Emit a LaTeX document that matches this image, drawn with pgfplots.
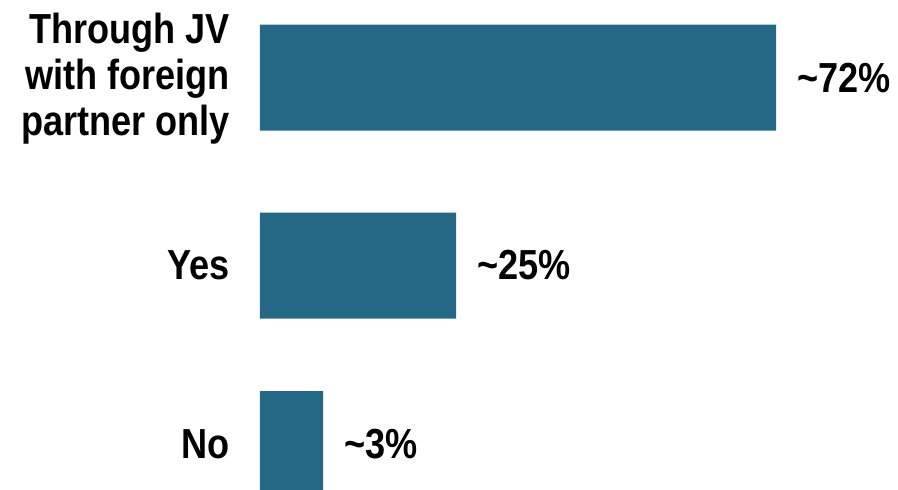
\documentclass[border=0pt]{standalone}
\usepackage{pgfplots}
\pgfplotsset{compat=1.18}
\usepackage{fontspec}
\setmainfont[FakeStretch=0.86]{Liberation Sans}
\definecolor{barblue}{RGB}{37,104,133}
\begin{document}
\begin{tikzpicture}
\useasboundingbox (0,0) rectangle (898pt,490pt);
\begin{axis}[
  at={(260pt,0pt)}, anchor=south west,
  scale only axis,
  width=638pt, height=490pt,
  xmin=0, xmax=89.02,
  ymin=0, ymax=490,
  y dir=reverse,
  xbar,
  bar width=106pt,
  axis line style={draw=none},
  xtick=\empty,
  ytick={79,265.5,444},
  yticklabels={{Through JV\\with foreign\\partner only},Yes,No},
  major tick length=0pt,
  yticklabel style={align=right, inner sep=0pt, xshift=-30pt,
    font=\fontsize{42pt}{46pt}\selectfont\bfseries},
  point meta=explicit symbolic,
  nodes near coords,
  every node near coord/.append style={anchor=west, inner sep=0pt, xshift=21pt,
    font=\fontsize{42pt}{46pt}\selectfont\bfseries, text=black},
]
\addplot[fill=barblue, draw=none] coordinates {
  (72,77.5) [\textasciitilde72\%]
  (27.35,265.5) [\textasciitilde25\%]
  (8.8,444) [\textasciitilde3\%]
};
\end{axis}
\end{tikzpicture}
\end{document}
